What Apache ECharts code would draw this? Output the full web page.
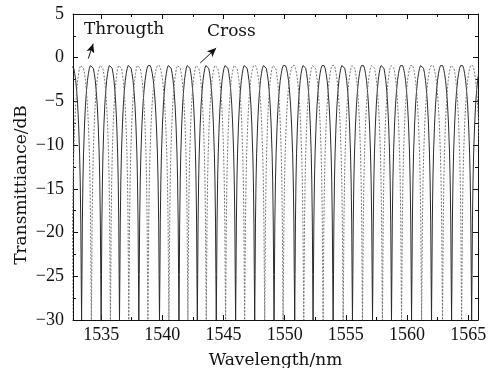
<!DOCTYPE html>
<html>
<head>
<meta charset="utf-8">
<script src="https://cdn.jsdelivr.net/npm/echarts@6/dist/echarts.min.js"></script>
<style>
  html, body { margin: 0; padding: 0; background: #fff; }
  #chart { width: 496px; height: 368px; }
</style>
</head>
<body>
<div id="chart"></div>
<script>
// dip wavelengths (nm)
const throughDips = [1531.8, 1533.4, 1535.0, 1536.5, 1538.08, 1539.77, 1541.36, 1542.86, 1544.41, 1545.99,
  1547.55, 1549.13, 1550.82, 1552.32, 1553.96, 1555.54, 1557.18, 1558.73, 1560.37, 1562.0,
  1563.64, 1565.28, 1566.9];
const crossDips = [1532.6, 1534.2, 1535.76, 1537.26, 1538.82, 1540.54, 1542.09, 1543.59, 1545.17, 1546.73,
  1548.37, 1549.87, 1551.56, 1553.14, 1554.78, 1556.36, 1557.99, 1559.55, 1561.19, 1562.9,
  1564.46, 1566.1];
// shape of one half fringe: fraction of the dip-to-dip gap, level in dB
const profileFrac = [0, 0.02, 0.04, 0.07, 0.1, 0.15, 0.2, 0.25, 0.3, 0.35, 0.4, 0.45, 0.5];
const profileDb = [-30, -24.8, -18.8, -14.0, -11.0, -7.7, -5.4, -3.8, -2.6, -1.8, -1.2, -0.9, -0.8];
const xTicks = [1535, 1540, 1545, 1550, 1555, 1560, 1565];

function fringe(dips) {
  const pts = [];
  for (let i = 0; i < dips.length - 1; i++) {
    const a = dips[i], b = dips[i + 1], gap = b - a;
    for (let k = 0; k < profileFrac.length; k++) pts.push([a + profileFrac[k] * gap, profileDb[k]]);
    for (let k = profileFrac.length - 2; k > 0; k--) pts.push([b - profileFrac[k] * gap, profileDb[k]]);
  }
  pts.push([dips[dips.length - 1], -30]);
  return pts;
}

const chart = echarts.init(document.getElementById('chart'), null, { renderer: 'canvas' });
const font = '"Liberation Serif", "DejaVu Serif", serif';
const wide = '"DejaVu Serif", "Liberation Serif", serif';
const xMin = 1532.7, xMax = 1565.8;

const tickStyle = { lineStyle: { color: '#111', width: 1 } };
const baseX = {
  type: 'value', min: xMin, max: xMax,
  axisLine: { show: true, onZero: false, lineStyle: { color: '#111', width: 1 } },
  axisTick: { show: true, inside: true, length: 5, ...tickStyle },
  minorTick: { show: true, splitNumber: 2, length: 3, lineStyle: { color: '#111' } },
  splitLine: { show: false }
};
const baseY = {
  type: 'value', min: -30, max: 5, interval: 5,
  axisLine: { show: true, onZero: false, lineStyle: { color: '#111', width: 1 } },
  axisTick: { show: true, inside: true, length: 5, ...tickStyle },
  minorTick: { show: true, splitNumber: 2, length: 3, lineStyle: { color: '#111' } },
  splitLine: { show: false }
};

chart.setOption({
  animation: false,
  grid: { left: 73, right: 18, top: 14, bottom: 48, containLabel: false, outerBoundsMode: 'none' },
  xAxis: [
    {
      ...baseX, position: 'bottom',
      name: 'Wavelength/nm', nameLocation: 'middle', nameGap: 32,
      nameTextStyle: { fontFamily: wide, fontSize: 17, color: '#111' },
      axisLabel: {
        fontFamily: font, fontSize: 18, color: '#111', margin: 6,
        formatter: (v) => (xTicks.includes(Math.round(v * 100) / 100) ? String(v) : '')
      }
    },
    { ...baseX, position: 'top', axisLabel: { show: false } }
  ],
  yAxis: [
    {
      ...baseY, position: 'left',
      axisLabel: {
        fontFamily: font, fontSize: 18, color: '#111', margin: 9,
        formatter: (v) => String(v).replace('-', '\u2212')
      }
    },
    { ...baseY, position: 'right', axisLabel: { show: false } }
  ],
  series: [
    {
      name: 'Througth', type: 'line', xAxisIndex: 0, yAxisIndex: 0,
      data: fringe(throughDips), showSymbol: false, smooth: false,
      lineStyle: { color: '#2a2a2a', width: 1 },
      markLine: {
        silent: true, symbol: ['none', 'arrow'], symbolSize: [6, 9],
        lineStyle: { color: '#111', width: 1, type: 'solid' }, label: { show: false },
        data: [[{ coord: [1533.95, -0.1] }, { coord: [1534.35, 1.6] }]]
      }
    },
    {
      name: 'Cross', type: 'line', xAxisIndex: 0, yAxisIndex: 0,
      data: fringe(crossDips), showSymbol: false, smooth: false,
      lineStyle: { color: '#777', width: 1, type: [2, 1.5] },
      markLine: {
        silent: true, symbol: ['none', 'arrow'], symbolSize: [6, 9],
        lineStyle: { color: '#111', width: 1, type: 'solid' }, label: { show: false },
        data: [[{ coord: [1543.1, -0.6] }, { coord: [1544.4, 1.1] }]]
      }
    }
  ],
  graphic: [
    { type: 'text', left: 84, top: 21, style: { text: 'Througth', fontFamily: wide, fontSize: 17, fill: '#111' } },
    { type: 'text', left: 207, top: 23, style: { text: 'Cross', fontFamily: wide, fontSize: 17, fill: '#111' } },
    {
      type: 'text', x: 22, y: 185, rotation: Math.PI / 2,
      style: { text: 'Transmittiance/dB', fontFamily: wide, fontSize: 17, fill: '#111', align: 'center', verticalAlign: 'middle' }
    }
  ]
});
</script>
</body>
</html>
